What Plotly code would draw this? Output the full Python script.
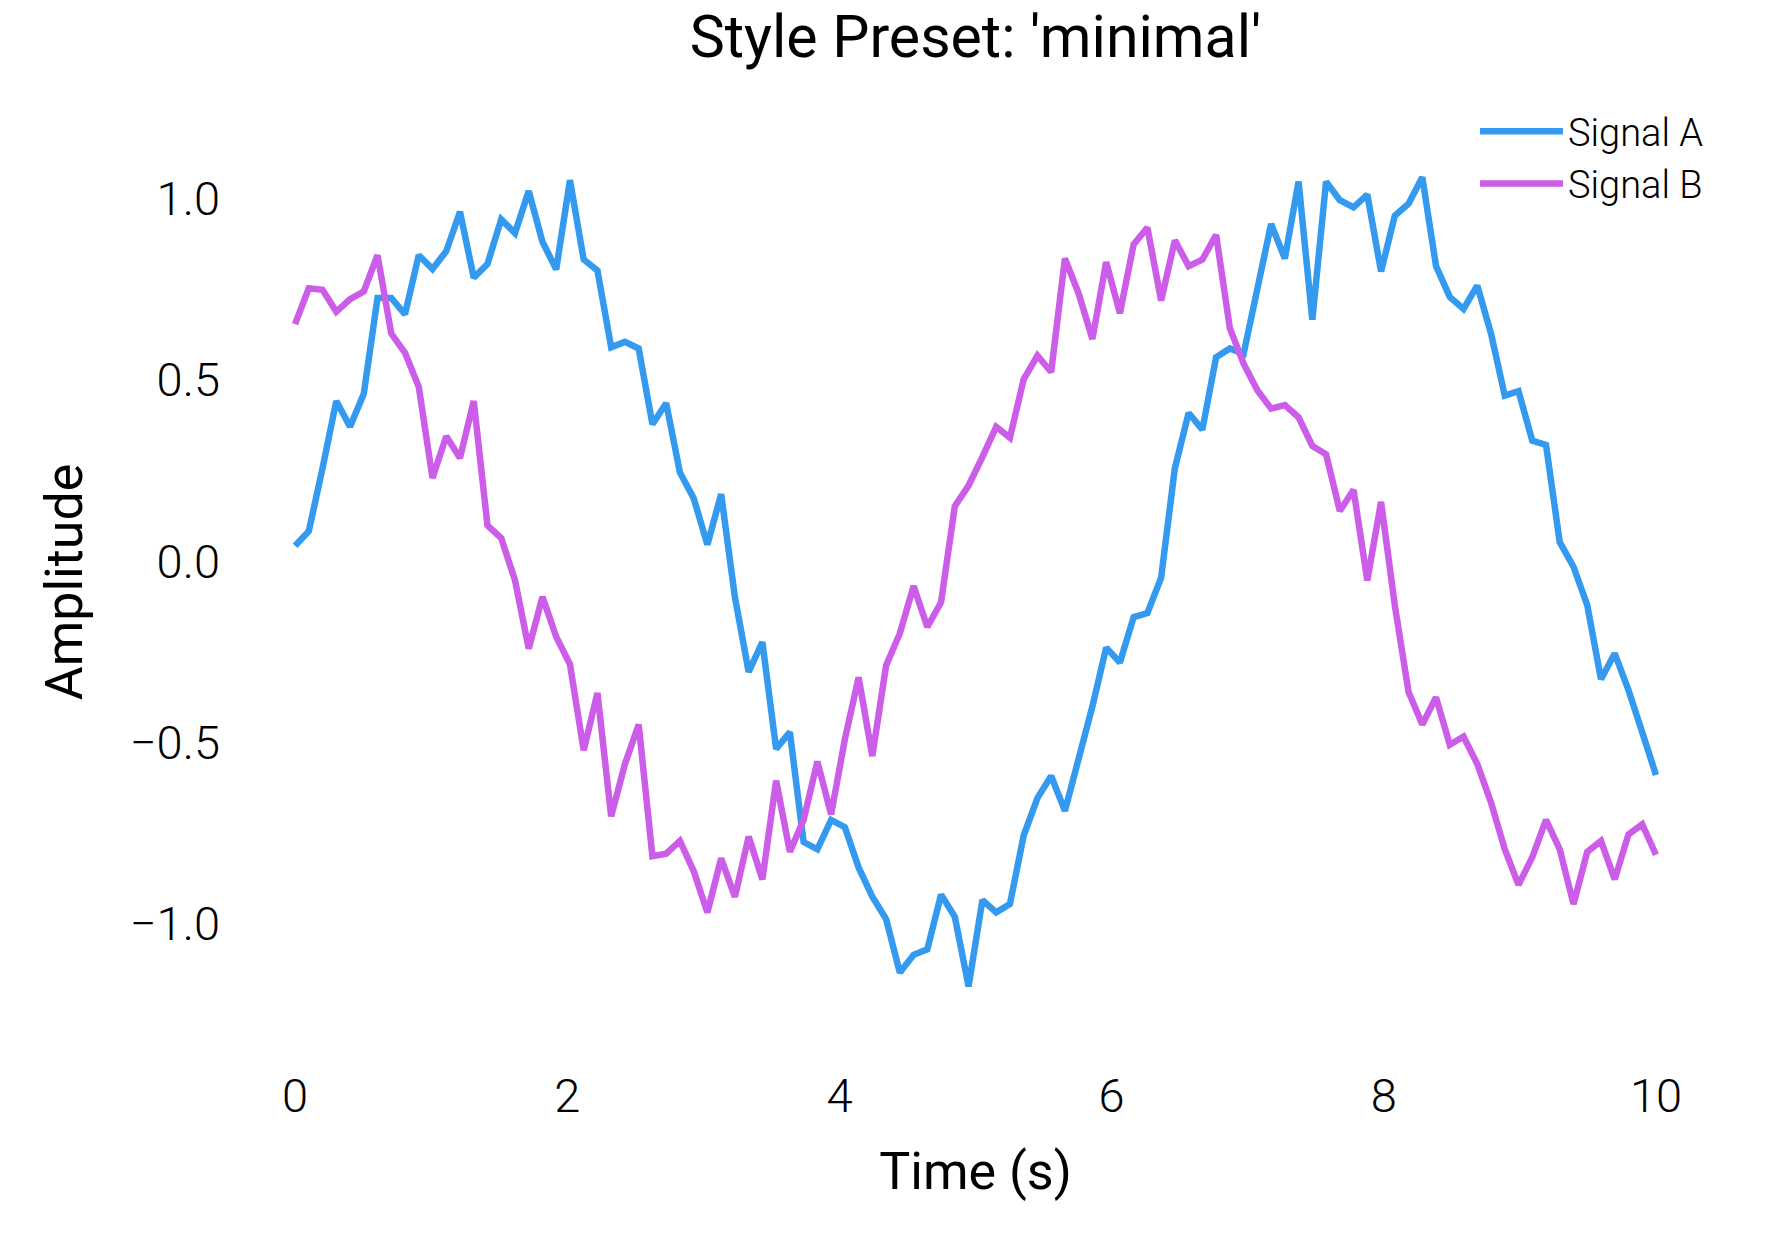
import plotly.graph_objects as go

time_s = [0.000, 0.101, 0.202, 0.303, 0.404, 0.505, 0.606, 0.707, 0.808, 0.909,
          1.010, 1.111, 1.212, 1.313, 1.414, 1.515, 1.616, 1.717, 1.818, 1.919,
          2.020, 2.121, 2.222, 2.323, 2.424, 2.525, 2.626, 2.727, 2.828, 2.929,
          3.030, 3.131, 3.232, 3.333, 3.434, 3.535, 3.636, 3.737, 3.838, 3.939,
          4.040, 4.141, 4.242, 4.343, 4.444, 4.545, 4.646, 4.747, 4.848, 4.949,
          5.051, 5.152, 5.253, 5.354, 5.455, 5.556, 5.657, 5.758, 5.859, 5.960,
          6.061, 6.162, 6.263, 6.364, 6.465, 6.566, 6.667, 6.768, 6.869, 6.970,
          7.071, 7.172, 7.273, 7.374, 7.475, 7.576, 7.677, 7.778, 7.879, 7.980,
          8.081, 8.182, 8.283, 8.384, 8.485, 8.586, 8.687, 8.788, 8.889, 8.990,
          9.091, 9.192, 9.293, 9.394, 9.495, 9.596, 9.697, 9.798, 9.899, 10.000]

signal_a = [0.043, 0.083, 0.257, 0.442, 0.371, 0.462, 0.726, 0.726, 0.681, 0.844,
            0.806, 0.855, 0.964, 0.782, 0.820, 0.943, 0.905, 1.021, 0.881, 0.805,
            1.051, 0.832, 0.802, 0.590, 0.605, 0.587, 0.378, 0.436, 0.245, 0.174,
            0.046, 0.185, -0.098, -0.305, -0.223, -0.517, -0.471, -0.774, -0.794, -0.713,
            -0.733, -0.844, -0.925, -0.986, -1.134, -1.085, -1.070, -0.919, -0.980, -1.172,
            -0.934, -0.968, -0.945, -0.756, -0.653, -0.592, -0.688, -0.552, -0.400, -0.238,
            -0.279, -0.154, -0.143, -0.045, 0.257, 0.409, 0.363, 0.563, 0.587, 0.572,
            0.749, 0.930, 0.835, 1.047, 0.666, 1.047, 0.996, 0.976, 1.011, 0.799,
            0.953, 0.986, 1.059, 0.814, 0.729, 0.696, 0.760, 0.628, 0.457, 0.469,
            0.333, 0.321, 0.053, -0.015, -0.121, -0.325, -0.254, -0.355, -0.471, -0.589]

signal_b = [0.654, 0.753, 0.749, 0.688, 0.723, 0.744, 0.844, 0.628, 0.575, 0.481,
            0.230, 0.345, 0.285, 0.442, 0.099, 0.064, -0.052, -0.241, -0.098, -0.208,
            -0.284, -0.521, -0.363, -0.703, -0.559, -0.450, -0.813, -0.806, -0.771, -0.854,
            -0.968, -0.819, -0.925, -0.759, -0.877, -0.605, -0.801, -0.713, -0.552, -0.698,
            -0.491, -0.320, -0.537, -0.287, -0.199, -0.068, -0.181, -0.113, 0.152, 0.209,
            0.288, 0.371, 0.341, 0.502, 0.567, 0.522, 0.835, 0.738, 0.613, 0.825,
            0.684, 0.874, 0.920, 0.719, 0.885, 0.814, 0.832, 0.900, 0.643, 0.545,
            0.472, 0.421, 0.431, 0.397, 0.318, 0.295, 0.139, 0.197, -0.053, 0.164,
            -0.121, -0.360, -0.450, -0.375, -0.506, -0.483, -0.559, -0.665, -0.794, -0.892,
            -0.816, -0.713, -0.794, -0.945, -0.801, -0.771, -0.877, -0.753, -0.725, -0.809]

series_names = ["Signal A", "Signal B"]
series_colors = ["#339AF0", "#CC5DE8"]
x_ticks = [0, 2, 4, 6, 8, 10]
y_ticks = [-1.0, -0.5, 0.0, 0.5, 1.0]

W, H = 1771, 1240
fig = go.Figure()
for name, vals, col in zip(series_names, [signal_a, signal_b], series_colors):
    fig.add_trace(go.Scatter(x=time_s, y=vals, mode="lines", name=name,
                             line=dict(color=col, width=6.5)))

fig.update_layout(
    width=W, height=H,
    paper_bgcolor="white", plot_bgcolor="white",
    margin=dict(l=227, r=47, t=137, b=213, autoexpand=False),
    font=dict(family="Roboto", color="#000000"),
    title=dict(text="Style Preset: 'minimal'", x=0.5, xref="paper", xanchor="center",
               y=1 - 36 / H, yref="container", yanchor="middle",
               font=dict(family="Roboto", size=59, color="#000000")),
    legend=dict(x=1475 / W, xref="container", xanchor="left",
                y=1 - 100 / H, yref="container", yanchor="top",
                font=dict(family="Roboto", size=38, weight=300, color="#000000"),
                itemwidth=83, bgcolor="rgba(0,0,0,0)", borderwidth=0),
    showlegend=True,
)
fig.update_xaxes(range=[-0.5, 10.5], tickvals=x_ticks, ticks="", showgrid=False,
                 zeroline=False, showline=False, ticklabelstandoff=37,
                 tickfont=dict(family="Roboto", size=47, weight=300, color="#000000"),
                 title=dict(text="Time (s)", standoff=30,
                            font=dict(family="Roboto", size=52, color="#000000")))
fig.update_yaxes(range=[-1.284, 1.170], tickvals=y_ticks, tickformat=".1f", ticks="",
                 showgrid=False, zeroline=False, showline=False, ticklabelstandoff=6,
                 tickfont=dict(family="Roboto", size=47, weight=300, color="#000000"),
                 title=dict(text="Amplitude", standoff=30,
                            font=dict(family="Roboto", size=52, color="#000000")))

fig.write_html("out.html", config={"displayModeBar": False},
               post_script="document.body.style.margin='0';")
